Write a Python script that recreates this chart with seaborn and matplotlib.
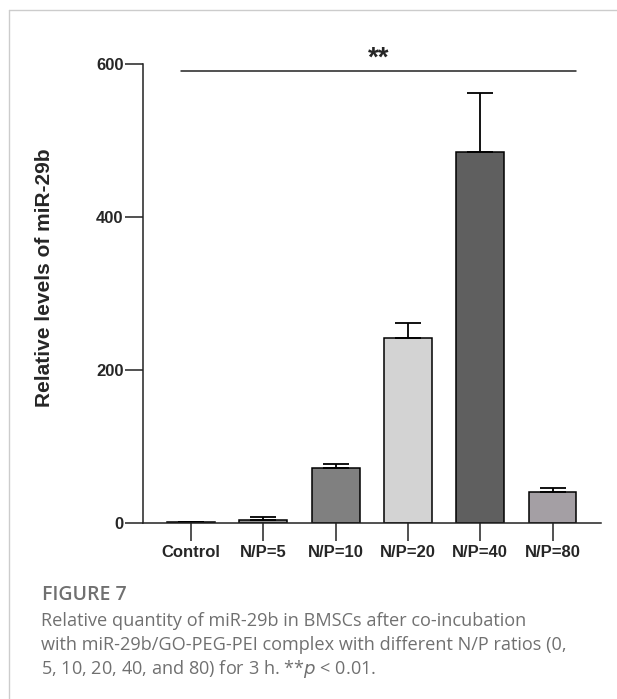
import numpy as np
import pandas as pd
import matplotlib
matplotlib.use("Agg")
import matplotlib.pyplot as plt
import seaborn as sns
from matplotlib.lines import Line2D

groups = ["Control", "N/P=5", "N/P=10", "N/P=20", "N/P=40", "N/P=80"]
means = [0.6, 3.5, 72, 241, 484, 40]
sem = [0, 3.5, 5, 20, 78, 6]
bar_colors = ["#ffffff", "#8f8f8f", "#808080", "#d3d3d3", "#5f5f5f", "#a49fa4"]
sig_label = "**"
sig_level = 590

sns.set_style("ticks")
plt.rcParams['font.family'] = ['Liberation Sans', 'DejaVu Sans']

df = pd.DataFrame({"group": groups, "value": means})

fig = plt.figure(figsize=(6.17, 6.99), dpi=100)
ax = fig.add_axes([0.2318, 0.2522, 0.7423, 0.7004])

sns.barplot(data=df, x="group", y="value", hue="group", palette=bar_colors,
            legend=False, width=0.66, edgecolor="black", linewidth=1.1,
            saturation=1, ax=ax)
ax.errorbar(x=np.arange(len(groups)), y=means, yerr=[np.zeros(len(sem)), sem],
            fmt="none", ecolor="black", elinewidth=1.3, capsize=9.4, capthick=1.3)

ax.set_xlim(-0.664, 5.67)
ax.set_ylim(0, 640)
ax.set_yticks([0, 200, 400, 600])
ax.spines["left"].set_bounds(0, 600)
ax.spines["top"].set_visible(False)
ax.spines["right"].set_visible(False)
for s in ["left", "bottom"]:
    ax.spines[s].set_linewidth(1.1)
    ax.spines[s].set_color("#222222")
ax.tick_params(axis="both", direction="out", length=13, width=1.1, color="#222222",
               labelsize=12, pad=1)
ax.tick_params(axis="x", pad=3)
for lab in ax.get_xticklabels() + ax.get_yticklabels():
    lab.set_fontweight("bold")
ax.set_xlabel("")
ax.set_ylabel("Relative levels of miR-29b", fontsize=15, fontweight="bold")
ax.yaxis.set_label_coords(-0.195, 0.5)

# significance line
ax.plot([-0.14, 5.32], [sig_level, sig_level], color="#222222", lw=1.1, clip_on=False)
ax.text(2.6, 598, sig_label, ha="center", va="baseline", fontsize=20,
        fontweight="bold", clip_on=False)

# page border
fig.add_artist(Line2D([9/617, 1], [1 - 10/699, 1 - 10/699], color="#cccccc", lw=1))
fig.add_artist(Line2D([9/617, 9/617], [0, 1 - 10/699], color="#cccccc", lw=1))

# caption
cap_col = "#707070"
fig.text(42/617, 1 - 595/699, "FIGURE 7", fontsize=14, color=cap_col,
         family=["Open Sans", "DejaVu Sans"], fontweight="semibold", va="center")
lines = ["Relative quantity of miR-29b in BMSCs after co-incubation",
         "with miR-29b/GO-PEG-PEI complex with different N/P ratios (0,",
         r"5, 10, 20, 40, and 80) for 3 h. **$\it{p}$ < 0.01."]
for i, t in enumerate(lines):
    fig.text(41/617, 1 - (621 + 24 * i)/699, t, fontsize=13.1, color=cap_col,
             family=["Open Sans", "DejaVu Sans"], va="center")

fig.savefig("out.png", dpi=100)
